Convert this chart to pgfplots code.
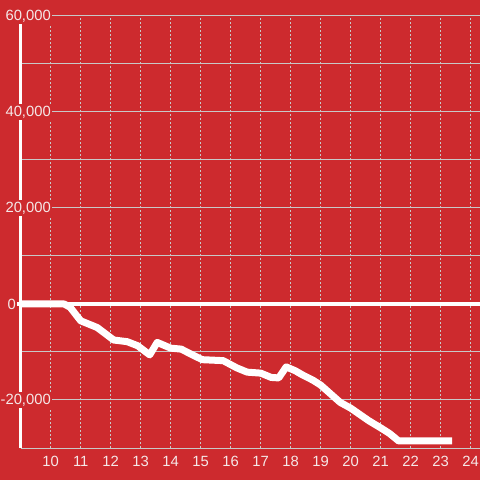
\documentclass[border=0pt]{standalone}
\usepackage{fontspec}
\setmainfont{Liberation Sans}
\usepackage{pgfplots}
\pgfplotsset{compat=1.18}
\usetikzlibrary{calc}
\definecolor{bgred}{RGB}{205,42,46}
\definecolor{gridgray}{RGB}{200,200,200}
\definecolor{labcol}{RGB}{245,232,232}
\begin{document}
\begin{tikzpicture}
\begin{axis}[
  set layers, clip=false,
  scale only axis, width=459.3bp, height=432bp,
  at={(0,0)}, anchor=south west,
  xmin=9, xmax=24.31, ymin=-30000, ymax=60000,
  axis x line*=bottom, axis y line*=left,
  x axis line style={gridgray, line width=1bp},
  y axis line style={white, line width=3bp},
  xtick={10,11,...,24},
  ytick={-20000,20000,40000,60000},
  minor ytick={-10000,10000,30000,50000},
  extra y ticks={0},
  extra y tick style={yticklabel style={xshift=-35bp}},
  major tick length=0pt, minor tick length=0pt,
  tick style={draw=none},
  ymajorgrids, yminorgrids, xmajorgrids,
  y grid style={gridgray, line width=1bp},
  x grid style={gridgray, line width=1bp, dash pattern=on 2bp off 2bp},
  scaled y ticks=false,
  /pgf/number format/assume math mode=true,
  /pgf/number format/1000 sep={,},
  ticklabel style={font=\fontsize{14.8bp}{17bp}\selectfont, text=labcol},
  yticklabel style={anchor=east, fill=bgred, inner sep=1.5bp, xshift=31.8bp},
  xticklabel style={anchor=north, inner sep=0pt, yshift=-7.7bp},
]
\begin{pgfonlayer}{axis background}
\fill[bgred] ($(rel axis cs:0,0)+(-20.7bp,-32bp)$) rectangle ($(rel axis cs:1,1)+(0bp,16bp)$);
\end{pgfonlayer}
\begin{pgfonlayer}{axis grid}
\draw[white, line width=4bp] (axis cs:9,0) ++(-3.7bp,0bp) -- (axis cs:24.31,0);
\end{pgfonlayer}
\addplot[white, line width=7bp, line join=round, line cap=butt] coordinates {
(9,0) (10.45,0) (10.65,-700) (11,-3500) (11.55,-4900) (12.1,-7500) (12.55,-7850)
(12.9,-8700) (13.3,-10600) (13.55,-8000) (14,-9200) (14.35,-9400) (14.6,-10200)
(15.05,-11600) (15.75,-11800) (16.2,-13300) (16.55,-14200) (17.0,-14400)
(17.35,-15300) (17.6,-15400) (17.85,-13100) (18.15,-13900) (18.4,-14800)
(18.75,-15900) (19.0,-16900) (19.65,-20500) (20.0,-21700) (20.6,-24300)
(21.05,-26000) (21.3,-27000) (21.6,-28540) (23.38,-28540)
};
\end{axis}
\pgfresetboundingbox
\path[use as bounding box] (-20.7bp,-32bp) rectangle (459.3bp,448bp);
\end{tikzpicture}
\end{document}
